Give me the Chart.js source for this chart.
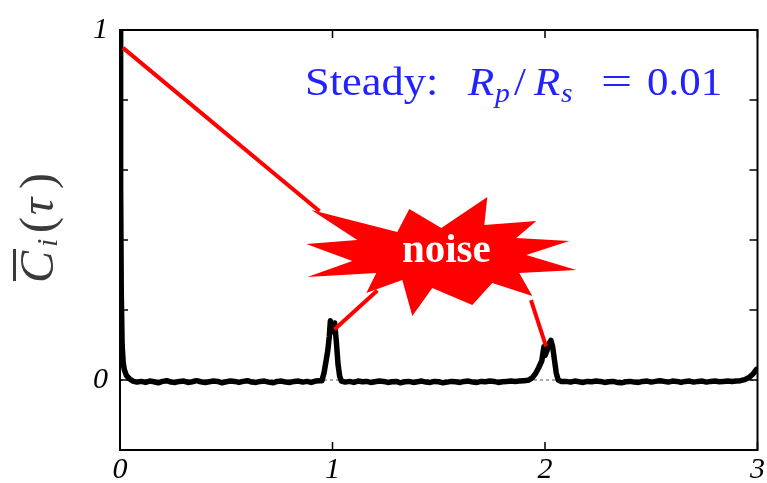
<!DOCTYPE html>
<html>
<head>
<meta charset="utf-8">
<script src="https://cdn.jsdelivr.net/npm/chart.js@4"></script>
<style>
  html, body { margin: 0; padding: 0; background: #fff; }
  #wrap { width: 767px; height: 483px; }
</style>
</head>
<body>
<div id="wrap"><canvas id="chart"></canvas></div>
<script>
// Lag values tau (in periods) and the averaged correlation C_i(tau)
const tau = [
  0, 0.003, 0.006, 0.01, 0.015, 0.02, 0.03, 0.045,
  0.06, 0.08, 0.10, 0.12, 0.14, 0.16, 0.18, 0.20, 0.22, 0.24,
  0.26, 0.28, 0.30, 0.32, 0.34, 0.36, 0.38, 0.40, 0.42, 0.44,
  0.46, 0.48, 0.50, 0.52, 0.54, 0.56, 0.58, 0.60, 0.62, 0.64,
  0.66, 0.68, 0.70, 0.72, 0.74, 0.76, 0.78, 0.80, 0.82, 0.84,
  0.86, 0.88, 0.90, 0.92, 0.94,
  0.95, 0.96, 0.97, 0.978, 0.985, 0.99, 0.995, 1.0, 1.005, 1.01,
  1.018, 1.026, 1.034, 1.042,
  1.06, 1.08, 1.10, 1.12, 1.14, 1.16, 1.18, 1.20, 1.22, 1.24,
  1.26, 1.28, 1.30, 1.32, 1.34, 1.36, 1.38, 1.40, 1.42, 1.44,
  1.46, 1.48, 1.50, 1.52, 1.54, 1.56, 1.58, 1.60, 1.62, 1.64,
  1.66, 1.68, 1.70, 1.72, 1.74, 1.76, 1.78, 1.80, 1.82, 1.84,
  1.86, 1.88, 1.90,
  1.92, 1.94, 1.955, 1.97, 1.985, 1.995, 2.0, 2.01, 2.02, 2.028,
  2.036, 2.045, 2.053, 2.062, 2.075,
  2.10, 2.12, 2.14, 2.16, 2.18, 2.20, 2.22, 2.24, 2.26, 2.28,
  2.30, 2.32, 2.34, 2.36, 2.38, 2.40, 2.42, 2.44, 2.46, 2.48,
  2.50, 2.52, 2.54, 2.56, 2.58, 2.60, 2.62, 2.64, 2.66, 2.68,
  2.70, 2.72, 2.74, 2.76, 2.78, 2.80, 2.82, 2.84, 2.86, 2.88,
  2.90, 2.92, 2.94, 2.96, 2.98, 2.995
];
const corr = [
  1.0, 0.55, 0.25, 0.1, 0.05, 0.03, 0.013, 0.003,
  -0.003, -0.006, -0.004, -0.007, -0.003, -0.005, -0.008, -0.004, -0.002, -0.006,
  -0.007, -0.004, -0.003, -0.007, -0.005, -0.002, -0.005, -0.007, -0.005, -0.003,
  -0.004, -0.008, -0.005, -0.003, -0.004, -0.007, -0.004, -0.002, -0.006, -0.007,
  -0.004, -0.003, -0.006, -0.008, -0.004, -0.003, -0.006, -0.007, -0.004, -0.003,
  -0.006, -0.004, -0.007, -0.003, -0.002,
  -0.002, 0.02, 0.055, 0.085, 0.125, 0.169, 0.15, 0.138, 0.15, 0.163,
  0.11, 0.045, 0.01, -0.003,
  -0.006, -0.004, -0.007, -0.003, -0.005, -0.004, -0.007, -0.005, -0.003, -0.004,
  -0.007, -0.005, -0.004, -0.008, -0.005, -0.004, -0.007, -0.005, -0.003, -0.006,
  -0.007, -0.004, -0.005, -0.008, -0.006, -0.004, -0.005, -0.007, -0.004, -0.003,
  -0.006, -0.007, -0.004, -0.005, -0.003, -0.004, -0.007, -0.005, -0.004, -0.003,
  -0.004, -0.003, -0.002,
  -0.001, 0.006, 0.018, 0.035, 0.055, 0.095, 0.07, 0.085, 0.105, 0.113,
  0.095, 0.055, 0.02, 0.0, -0.004,
  -0.004, -0.006, -0.003, -0.005, -0.007, -0.004, -0.005, -0.003, -0.004, -0.007,
  -0.005, -0.004, -0.007, -0.008, -0.005, -0.004, -0.006, -0.007, -0.004, -0.003,
  -0.006, -0.004, -0.002, -0.004, -0.006, -0.003, -0.004, -0.007, -0.004, -0.003,
  -0.006, -0.004, -0.003, -0.006, -0.004, -0.003, -0.005, -0.004, -0.003, -0.004,
  -0.003, -0.002, 0.001, 0.007, 0.018, 0.03
];

// Axis ticks and the labels shown on them
const xTickValues = [0, 1, 2, 3];
const yTickLabels = { '0': '0', '1': '1' };

// Callout pointers from the burst to the two echo peaks, in data units [tau0, C0, tau1, C1]
const calloutLines = [
  [0.014, 0.949, 0.939, 0.482],
  [1.009, 0.144, 1.211, 0.256],
  [1.934, 0.228, 2.005, 0.096]
];
const burstAnchor = [1.512, 0.363];
// Burst outline, pixel offsets from the anchor
const burstShape = [
  [-135, -9], [-84, -13], [-130, -43], [-44, -21], [-32, -44], [0, -25],
  [46, -56], [43, -28], [95, -32], [75, -15], [128, -12], [85, 2],
  [135, 17], [78, 20], [91, 43], [51, 30], [31, 52], [-9, 35],
  [-29, 63], [-39, 27], [-75, 40], [-65, 20], [-134, 24], [-89, 8]
];

const serif = '"Liberation Serif", serif';
const f = (spec) => spec + ' ' + serif;

// draws a text piece horizontally stretched by sx
function wideText(ctx, text, x, y, font, sx) {
  ctx.save();
  ctx.translate(x, y);
  ctx.scale(sx, 1);
  ctx.font = font;
  ctx.fillText(text, 0, 0);
  ctx.restore();
}

const frameAndTicks = {
  id: 'frameAndTicks',
  afterDatasetsDraw(chart) {
    const { ctx, chartArea: a, scales } = chart;
    ctx.save();
    // callout lines
    ctx.strokeStyle = '#ff0000';
    ctx.lineWidth = 4;
    ctx.lineCap = 'butt';
    calloutLines.forEach(([x0, y0, x1, y1]) => {
      ctx.beginPath();
      ctx.moveTo(scales.x.getPixelForValue(x0), scales.y.getPixelForValue(y0));
      ctx.lineTo(scales.x.getPixelForValue(x1), scales.y.getPixelForValue(y1));
      ctx.stroke();
    });
    // burst
    const cx = scales.x.getPixelForValue(burstAnchor[0]);
    const cy = scales.y.getPixelForValue(burstAnchor[1]);
    ctx.fillStyle = '#ff0000';
    ctx.beginPath();
    burstShape.forEach(([dx, dy], i) => {
      if (i === 0) ctx.moveTo(cx + dx, cy + dy); else ctx.lineTo(cx + dx, cy + dy);
    });
    ctx.closePath();
    ctx.fill();
    ctx.fillStyle = '#ffffff';
    ctx.font = f('bold 41px');
    ctx.textAlign = 'center';
    ctx.textBaseline = 'alphabetic';
    ctx.fillText('noise', cx + 5, cy + 9);

    // frame
    ctx.strokeStyle = '#000';
    ctx.lineWidth = 2;
    ctx.strokeRect(a.left, a.top, a.right - a.left, a.bottom - a.top);
    // inward ticks on all four sides
    ctx.lineWidth = 1.5;
    const tl = 8;
    scales.y.ticks.forEach(t => {
      const y = scales.y.getPixelForValue(t.value);
      ctx.beginPath();
      ctx.moveTo(a.left, y); ctx.lineTo(a.left + tl, y);
      ctx.moveTo(a.right, y); ctx.lineTo(a.right - tl, y);
      ctx.stroke();
    });
    scales.x.ticks.forEach(t => {
      const x = scales.x.getPixelForValue(t.value);
      ctx.beginPath();
      ctx.moveTo(x, a.bottom); ctx.lineTo(x, a.bottom - tl);
      ctx.moveTo(x, a.top); ctx.lineTo(x, a.top + tl);
      ctx.stroke();
    });
    ctx.restore();
  },
  afterDraw(chart) {
    const { ctx } = chart;
    ctx.save();
    ctx.textBaseline = 'alphabetic';
    ctx.textAlign = 'left';
    // annotation: steady case radius ratio
    ctx.fillStyle = '#2222ff';
    wideText(ctx, 'Steady:', 305, 95, f('39px'), 1.14);
    wideText(ctx, 'R', 468, 95, f('italic 39px'), 1.1);
    wideText(ctx, 'p', 495, 102, f('italic 27px'), 1.1);
    wideText(ctx, '/', 514, 95, f('39px'), 1.1);
    wideText(ctx, 'R', 534, 95, f('italic 39px'), 1.1);
    wideText(ctx, 's', 561, 102, f('italic 27px'), 1.1);
    wideText(ctx, '=', 601, 95, f('39px'), 1.42);
    wideText(ctx, '0.01', 647, 95, f('39px'), 1.1);

    // y axis title
    ctx.translate(53, 283);
    ctx.rotate(-Math.PI / 2);
    ctx.fillStyle = '#3a3a3a';
    ctx.font = f('italic 48px');
    ctx.fillText('C', 0, 0);
    ctx.fillRect(2, -40, 32, 3);
    ctx.font = f('italic 30px');
    ctx.fillText('i', 36, 4);
    ctx.font = f('48px');
    ctx.fillText('(', 50, 0);
    ctx.font = f('italic 48px');
    ctx.fillText('τ', 68, 0);
    ctx.font = f('48px');
    ctx.fillText(')', 94, 0);
    ctx.restore();
  }
};

const points = tau.map((t, i) => ({ x: t, y: corr[i] }));

new Chart(document.getElementById('chart'), {
  type: 'scatter',
  data: {
    datasets: [
      {
        data: points,
        showLine: true,
        borderColor: '#000',
        borderWidth: 5.5,
        borderJoinStyle: 'round',
        borderCapStyle: 'round',
        pointRadius: 0,
        tension: 0
      },
      {
        data: [{ x: 0, y: 0 }, { x: 3, y: 0 }],
        showLine: true,
        borderColor: '#555',
        borderWidth: 1,
        borderDash: [3, 3],
        pointRadius: 0
      }
    ]
  },
  options: {
    responsive: true,
    maintainAspectRatio: false,
    animation: false,
    layout: { padding: { top: 24, right: 8, left: 0, bottom: 0 } },
    plugins: { legend: { display: false }, tooltip: { enabled: false } },
    scales: {
      x: {
        type: 'linear',
        min: 0, max: 3,
        afterBuildTicks: s => { s.ticks = xTickValues.map(v => ({ value: v })); },
        ticks: {
          callback: v => String(v),
          color: '#000',
          font: { family: serif, size: 30, style: 'italic' },
          padding: 2,
          maxRotation: 0,
          autoSkip: false
        },
        grid: { display: false, drawTicks: false },
        border: { display: false },
        afterFit: s => { s.height = 33; }
      },
      y: {
        min: -0.2, max: 1,
        ticks: {
          stepSize: 0.2,
          callback: v => yTickLabels[String(Math.round(v * 1000) / 1000)] || '',
          color: '#000',
          font: { family: serif, size: 30, style: 'italic' },
          padding: 12,
          autoSkip: false
        },
        grid: { display: false, drawTicks: false },
        border: { display: false },
        afterFit: s => { s.width = 120; }
      }
    }
  },
  plugins: [frameAndTicks]
});
</script>
</body>
</html>
